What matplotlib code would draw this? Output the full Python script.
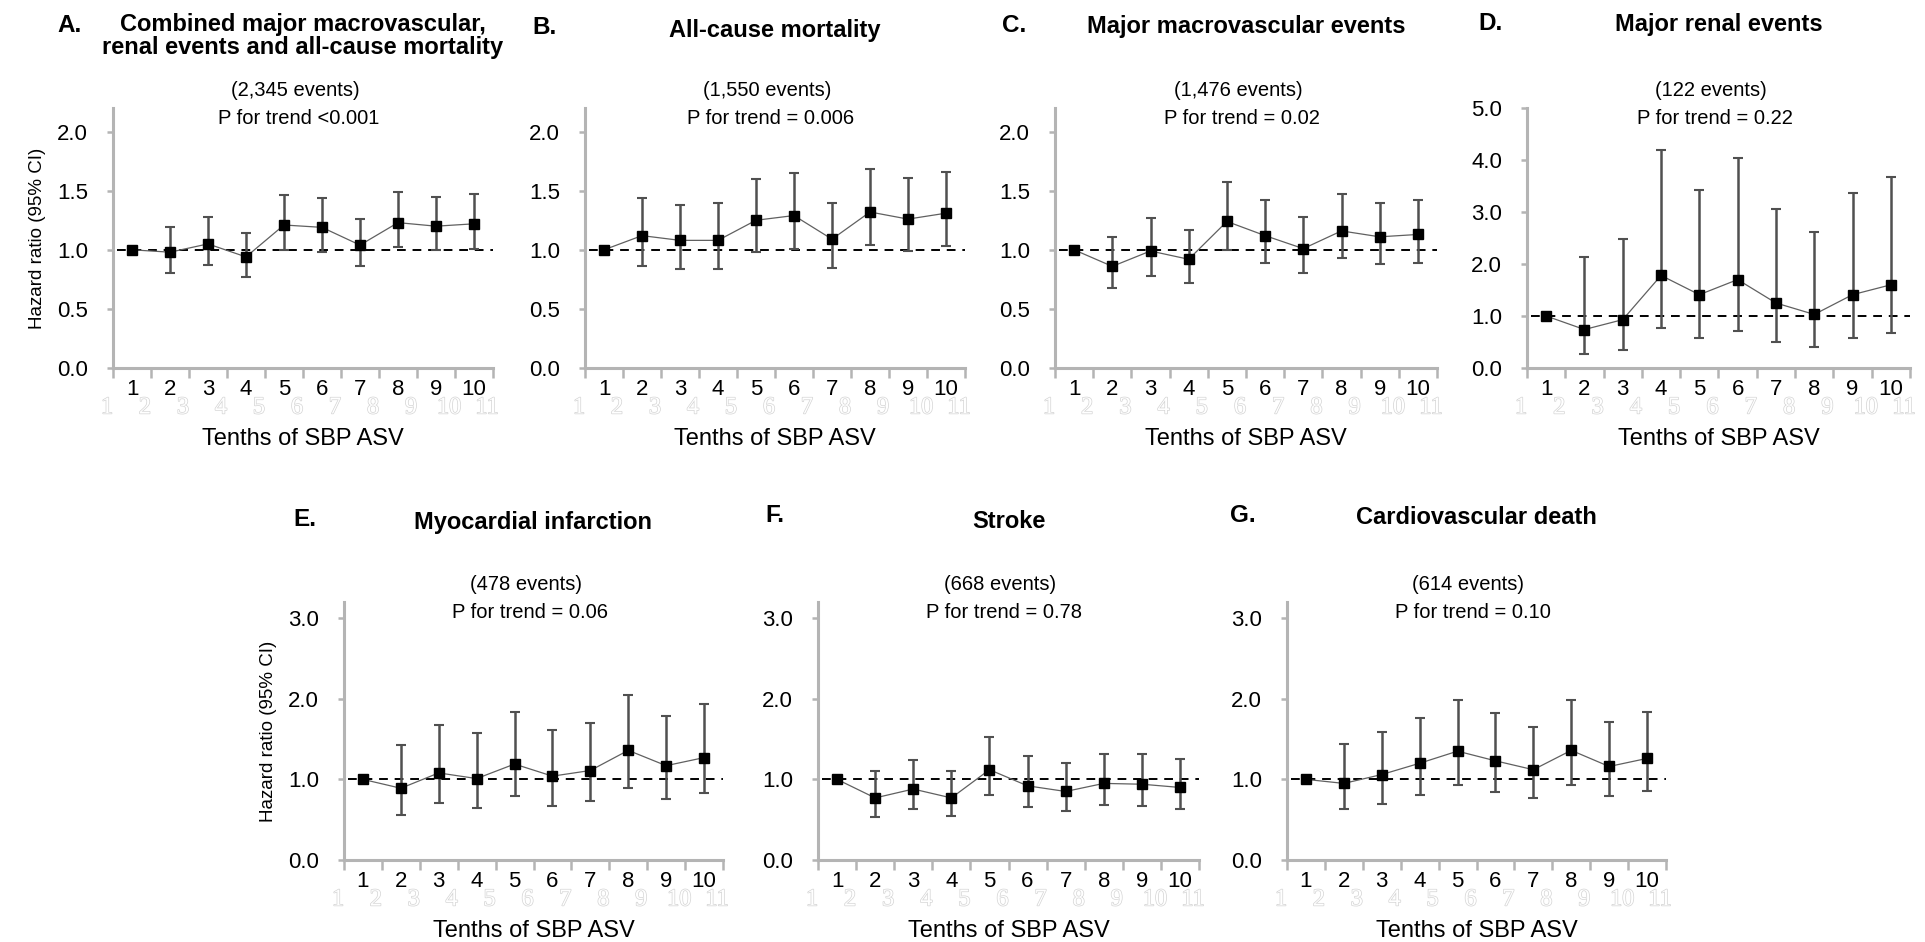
import numpy as np
import matplotlib
matplotlib.use("Agg")
import matplotlib.pyplot as plt
import matplotlib.transforms as mtransforms
import matplotlib.patheffects as pe

plt.rcParams['font.family'] = ['Liberation Sans', 'DejaVu Sans']

# tenths of SBP ASV
tenths = [1, 2, 3, 4, 5, 6, 7, 8, 9, 10]
ghost_labels = ['1', '2', '3', '4', '5', '6', '7', '8', '9', '10', '11']

# hazard ratios and 95% CI per outcome (tenth 1 is the reference)
hr_a = [1.00, 0.98, 1.05, 0.94, 1.21, 1.19, 1.04, 1.23, 1.20, 1.22]
lo_a = [1.00, 0.80, 0.87, 0.77, 1.00, 0.98, 0.86, 1.02, 1.00, 1.01]
hi_a = [1.00, 1.19, 1.28, 1.14, 1.46, 1.44, 1.26, 1.49, 1.45, 1.47]

hr_b = [1.00, 1.12, 1.08, 1.08, 1.25, 1.29, 1.09, 1.32, 1.26, 1.31]
lo_b = [1.00, 0.86, 0.84, 0.84, 0.98, 1.01, 0.85, 1.04, 0.99, 1.03]
hi_b = [1.00, 1.44, 1.38, 1.40, 1.60, 1.65, 1.40, 1.68, 1.61, 1.66]

hr_c = [1.00, 0.86, 0.99, 0.92, 1.24, 1.12, 1.01, 1.16, 1.11, 1.13]
lo_c = [1.00, 0.68, 0.78, 0.72, 1.00, 0.89, 0.80, 0.93, 0.88, 0.89]
hi_c = [1.00, 1.11, 1.27, 1.17, 1.57, 1.42, 1.28, 1.47, 1.40, 1.42]

hr_d = [1.00, 0.74, 0.93, 1.78, 1.41, 1.70, 1.25, 1.03, 1.41, 1.60]
lo_d = [1.00, 0.26, 0.34, 0.76, 0.58, 0.71, 0.50, 0.40, 0.58, 0.67]
hi_d = [1.00, 2.13, 2.49, 4.19, 3.42, 4.03, 3.06, 2.61, 3.37, 3.68]

hr_e = [1.00, 0.89, 1.08, 1.01, 1.19, 1.04, 1.11, 1.36, 1.17, 1.27]
lo_e = [1.00, 0.56, 0.71, 0.65, 0.79, 0.67, 0.73, 0.89, 0.76, 0.83]
hi_e = [1.00, 1.43, 1.68, 1.57, 1.84, 1.61, 1.70, 2.05, 1.79, 1.93]

hr_f = [1.00, 0.77, 0.88, 0.77, 1.12, 0.92, 0.85, 0.95, 0.94, 0.90]
lo_f = [1.00, 0.53, 0.63, 0.55, 0.81, 0.66, 0.61, 0.68, 0.67, 0.63]
hi_f = [1.00, 1.10, 1.24, 1.10, 1.53, 1.29, 1.20, 1.32, 1.31, 1.25]

hr_g = [1.00, 0.95, 1.06, 1.20, 1.35, 1.23, 1.12, 1.36, 1.16, 1.26]
lo_g = [1.00, 0.63, 0.70, 0.81, 0.93, 0.84, 0.77, 0.93, 0.79, 0.86]
hi_g = [1.00, 1.44, 1.59, 1.76, 1.99, 1.82, 1.65, 1.98, 1.71, 1.84]

letters = ['A.', 'B.', 'C.', 'D.', 'E.', 'F.', 'G.']
titles = ['Combined major macrovascular,\nrenal events and all-cause mortality',
          'All-cause mortality', 'Major macrovascular events', 'Major renal events',
          'Myocardial infarction', 'Stroke', 'Cardiovascular death']
events = ['(2,345 events)', '(1,550 events)', '(1,476 events)', '(122 events)',
          '(478 events)', '(668 events)', '(614 events)']
ptrend = ['P for trend <0.001', 'P for trend = 0.006', 'P for trend = 0.02',
          'P for trend = 0.22', 'P for trend = 0.06', 'P for trend = 0.78',
          'P for trend = 0.10']

series = [(hr_a, lo_a, hi_a), (hr_b, lo_b, hi_b), (hr_c, lo_c, hi_c), (hr_d, lo_d, hi_d),
          (hr_e, lo_e, hi_e), (hr_f, lo_f, hi_f), (hr_g, lo_g, hi_g)]
ytop = [2.2, 2.2, 2.2, 5.0, 3.2, 3.2, 3.2]
yticks = [[0, 0.5, 1.0, 1.5, 2.0]] * 3 + [[0, 1, 2, 3, 4, 5]] + [[0, 1, 2, 3]] * 3

W, H = 1925, 942
# axes boxes in pixels: left, right, top, bottom
boxes = [(113, 493, 108, 368), (585, 965, 108, 368), (1055, 1437, 108, 368),
         (1527, 1910, 108, 368), (344, 723, 602, 860), (818, 1199, 602, 860),
         (1287, 1666, 602, 860)]
letter_pos = [(57, 25), (532, 27), (1002, 25), (1478, 23), (293, 520), (765, 515), (1230, 515)]
title_y = [36, 30, 27, 25, 522, 522, 518]

fig = plt.figure(figsize=(W / 100, H / 100), dpi=100)
axis_grey = '#b4b4b4'
bar_grey = '#505050'

for i in range(7):
    l, r, t, b = boxes[i]
    ax = fig.add_axes([l / W, 1 - b / H, (r - l) / W, (b - t) / H])
    hr, lo, hi = [np.array(s) for s in series[i]]
    x = np.array(tenths)

    ax.hlines(1.0, 0.6, 10.5, colors='black', linestyles=(0, (4.5, 3.5)), linewidth=1.4, zorder=1)
    ax.plot(x, hr, color='#606060', linewidth=0.9, zorder=2)
    ax.errorbar(x[1:], hr[1:], yerr=[hr[1:] - lo[1:], hi[1:] - hr[1:]], fmt='none',
                ecolor=bar_grey, elinewidth=1.8, capsize=3.5, capthick=1.5, zorder=3)
    ax.plot(x, hr, 's', color='black', markersize=6.5, zorder=4)

    ax.set_xlim(0.5, 10.5)
    ax.set_ylim(0, ytop[i])
    ax.set_yticks(yticks[i])
    ax.set_yticklabels(['%.1f' % v for v in yticks[i]])
    ax.set_xticks(x)
    ax.set_xticklabels([str(v) for v in tenths])
    ax.set_xticks(np.arange(0.5, 11, 1.0), minor=True)
    ax.tick_params(axis='x', which='major', length=0, pad=8, labelsize=16)
    ax.tick_params(axis='x', which='minor', length=7, width=1.8, color=axis_grey)
    ax.tick_params(axis='y', length=4, width=1.8, color=axis_grey, pad=14, labelsize=16)
    for side in ['top', 'right']:
        ax.spines[side].set_visible(False)
    for side in ['left', 'bottom']:
        ax.spines[side].set_color(axis_grey)
        ax.spines[side].set_linewidth(2.2)

    # faint leftover category labels under the axis
    tr = mtransforms.offset_copy(ax.get_xaxis_transform(), fig=fig, x=-6, y=-40, units='dots')
    for k, g in enumerate(ghost_labels):
        ax.text(0.5 + k, 0, g, transform=tr, ha='center', va='center', fontsize=17.5,
                family='Liberation Serif', color='white', clip_on=False,
                path_effects=[pe.withStroke(linewidth=1.0, foreground='#d4d4d4')])

    ax.set_xlabel('Tenths of SBP ASV', fontsize=17, labelpad=20)
    if i in (0, 4):
        ax.set_ylabel('Hazard ratio (95% CI)', fontsize=13.5, labelpad=8)

    cx = (l + r) / 2 - 8
    fig.text(cx / W, 1 - (t - 18) / H, events[i], ha='center', va='center', fontsize=14.5)
    fig.text((cx + 4) / W, 1 - (t + 10) / H, ptrend[i], ha='center', va='center', fontsize=14.5)

    lx, ly = letter_pos[i]
    fig.text(lx / W, 1 - ly / H, letters[i], ha='left', va='center', fontsize=17.5, fontweight='bold')
    fig.text(((l + r) / 2) / W, 1 - title_y[i] / H, titles[i], ha='center', va='center',
             fontsize=17, fontweight='bold', linespacing=1.05)

fig.savefig('out.png', dpi=100)
